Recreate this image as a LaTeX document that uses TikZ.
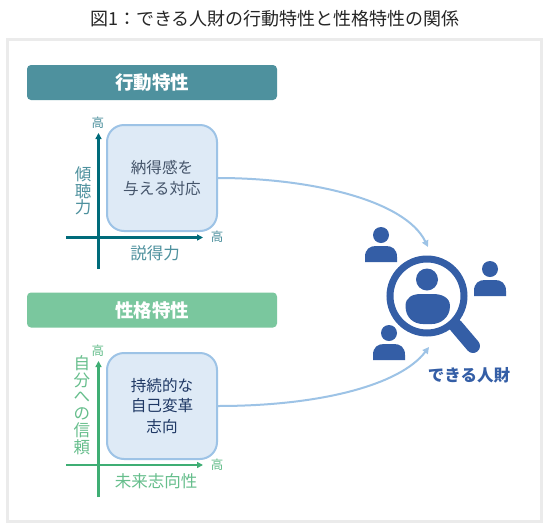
\documentclass[tikz,border=0pt]{standalone}
\usepackage{fontspec}
\setmainfont{Noto Sans CJK JP}
\usetikzlibrary{arrows.meta}
\definecolor{teal1}{HTML}{4E919E}
\definecolor{green1}{HTML}{7AC79E}
\definecolor{greentext}{HTML}{66BE8C}
\definecolor{boxfill}{HTML}{DEEAF6}
\definecolor{boxline}{HTML}{9DC3E6}
\definecolor{axteal}{HTML}{006B7A}
\definecolor{axgreen}{HTML}{3FAE74}
\definecolor{icon}{HTML}{345EA6}
\definecolor{boxtext}{HTML}{44546A}
\tikzset{
  hdr/.style={rounded corners=4pt,minimum width=250pt,minimum height=35pt,text=white,font=\fontsize{18.5}{18.5}\selectfont\bfseries,inner sep=0pt},
  cardbox/.style={draw=boxline,fill=boxfill,line width=2pt,rounded corners=17pt,minimum width=110pt,minimum height=106pt,inner sep=0pt,align=center,font=\fontsize{15.6}{20.5}\selectfont},
  axisline/.style={line width=2.2pt,-{Triangle[length=6pt,width=6pt]}},
  linkcurve/.style={draw=boxline,line width=2pt,-{Triangle[length=6.5pt,width=6.5pt]}},
  lab/.style={inner sep=0pt,font=\fontsize{16.5}{16.3}\selectfont,align=center},
  hi/.style={inner sep=0pt,font=\fontsize{12.5}{12.5}\selectfont},
}
\begin{document}
\begin{tikzpicture}[x=1pt,y=-1pt]
\useasboundingbox (0,0) rectangle (550,531);
\fill[white] (0,0) rectangle (550,531);
\node[inner sep=0pt,font=\fontsize{18}{18}\selectfont,text=black!85] (title) at (275,19) {図1：できる人財の行動特性と性格特性の関係};
\node[draw=black!8,line width=3pt,fill=white,minimum width=534pt,minimum height=482pt,inner sep=0pt] (panel) at (274.5,280.5) {};
% top
\node[hdr,fill=teal1] (h1) at (152,82.5) {行動特性};
\node[cardbox,text=boxtext] (b1) at (162,178) {納得感を\\与える対応};
\coordinate (v1s) at (98.5,269); \coordinate (v1e) at (98.5,133);
\coordinate (h1s) at (66,237.5); \coordinate (h1e) at (203,237.5);
\draw[axisline,draw=axteal,fill=axteal] (v1s) -- (v1e);
\draw[axisline,draw=axteal,fill=axteal] (h1s) -- (h1e);
\node[hi,text=teal1] (a1) at (98,123) {高};
\node[hi,text=teal1] (a2) at (217,237) {高};
\node[lab,text=teal1] (l1) at (155,253) {説得力};
\node[lab,text=teal1] (l2) at (83,191) {傾\\聴\\力};
% bottom
\node[hdr,fill=green1] (h2) at (152,310) {性格特性};
\node[cardbox,text=icon!60!black] (b2) at (162,406) {持続的な\\自己変革\\志向};
\coordinate (v2s) at (98.5,497); \coordinate (v2e) at (98.5,361);
\coordinate (h2s) at (66,465); \coordinate (h2e) at (203,465);
\draw[axisline,draw=axgreen,fill=axgreen] (v2s) -- (v2e);
\draw[axisline,draw=axgreen,fill=axgreen] (h2s) -- (h2e);
\node[hi,text=greentext] (a3) at (98,351) {高};
\node[hi,text=greentext] (a4) at (217,465) {高};
\node[lab,text=greentext] (l3) at (156,481) {未来志向性};
\node[lab,text=greentext,font=\fontsize{16.5}{16.7}\selectfont] (l4) at (82,405) {自\\分\\へ\\の\\信\\頼};
% icon
\coordinate (t1) at (428,247);
\coordinate (t2) at (429,347);
\draw[linkcurve] (b1.east |- 0,178) .. controls (310,178) and (405,200) .. (t1);
\draw[linkcurve] (b2.east |- 0,406) .. controls (320,406) and (400,385) .. (t2);
\foreach \x/\y in {381/235,490/269,389/333}{
  \fill[icon] (\x,\y) circle[radius=8];
  \fill[icon] (\x-16,\y+27) -- (\x-16,\y+22) .. controls (\x-16,\y+14) and (\x-11,\y+11) .. (\x-5,\y+11) -- (\x+5,\y+11) .. controls (\x+11,\y+11) and (\x+16,\y+14) .. (\x+16,\y+22) -- (\x+16,\y+27) -- cycle;
}
\draw[icon,line width=14pt,line cap=round] (456,326) -- (473,346);
\draw[icon,fill=white,line width=7pt] (427,296) circle[radius=37];
\fill[icon] (427,279.5) circle[radius=11];
\fill[icon] (405.5,306) .. controls (405.5,297) and (413,294) .. (421,294) -- (433,294) .. controls (441,294) and (450,297) .. (450,306) .. controls (450,318) and (440,324) .. (432,324) -- (423,324) .. controls (414,324) and (405.5,318) .. (405.5,306) -- cycle;
\node[inner sep=0pt,text=icon,font=\fontsize{16.5}{16.5}\selectfont\bfseries] (lab) at (469,375) {できる人財};
\end{tikzpicture}
\end{document}
